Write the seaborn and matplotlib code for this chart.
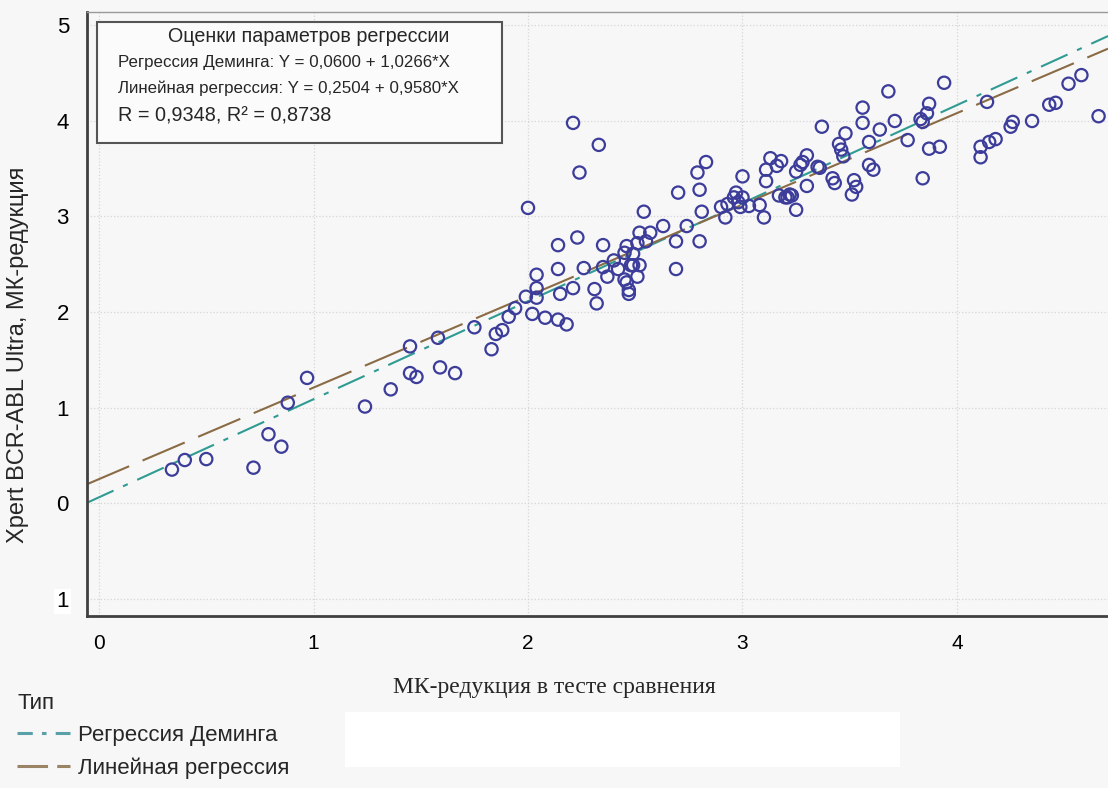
import numpy as np
import pandas as pd
import matplotlib
matplotlib.use("Agg")
import matplotlib.pyplot as plt
from matplotlib.lines import Line2D
from matplotlib.patches import Rectangle
import seaborn as sns

# Paired measurements: comparison test vs Xpert BCR-ABL Ultra (MR, log scale)
x_ref = [0.34, 0.40, 0.50, 0.72, 0.79, 0.85, 0.88, 0.97, 1.24, 1.36,
         1.45, 1.45, 1.48, 1.58, 1.59, 1.66, 1.75, 1.83, 1.85, 1.88,
         1.91, 1.94, 1.99, 2.00, 2.02, 2.04, 2.04, 2.04, 2.08, 2.14,
         2.14, 2.15, 2.14, 2.18, 2.21, 2.24, 2.23, 2.21, 2.26, 2.33,
         2.31, 2.32, 2.35, 2.37, 2.35, 2.40, 2.42, 2.45, 2.46, 2.47,
         2.47, 2.49, 2.49, 2.51, 2.52, 2.52, 2.54, 2.57, 2.63, 2.69,
         2.69, 2.70, 2.74, 2.80, 2.80, 2.81, 2.79, 2.83, 2.90, 2.92,
         2.93, 2.97, 2.98, 3.00, 3.00, 3.03, 3.08, 3.10, 2.96, 2.99,
         3.11, 3.11, 3.13, 3.18, 3.16, 3.17, 3.21, 3.23, 3.25, 3.30,
         3.28, 3.25, 3.30, 3.27, 3.37, 3.36, 3.42, 3.43, 3.48, 3.45,
         3.46, 3.47, 3.51, 3.52, 3.53, 3.56, 3.56, 3.59, 3.59, 3.61,
         3.64, 3.68, 3.71, 3.77, 3.83, 3.84, 3.86, 3.87, 3.84, 3.87,
         3.92, 3.94, 4.14, 4.11, 4.15, 4.18, 4.11, 4.25, 4.26, 4.35,
         4.43, 4.46, 4.52, 4.58, 4.66, 2.55, 2.51, 2.48, 2.45, 2.46,
         3.20, 3.22, 3.35]
y_xpert = [0.35, 0.45, 0.46, 0.37, 0.72, 0.59, 1.05, 1.31, 1.01, 1.19,
           1.64, 1.36, 1.32, 1.73, 1.42, 1.36, 1.84, 1.61, 1.77, 1.81,
           1.95, 2.04, 2.16, 3.09, 1.98, 2.39, 2.25, 2.15, 1.94, 2.70,
           2.45, 2.19, 1.92, 1.87, 3.98, 3.46, 2.78, 2.25, 2.46, 3.75,
           2.24, 2.09, 2.70, 2.37, 2.47, 2.54, 2.45, 2.34, 2.69, 2.23,
           2.19, 2.49, 2.61, 2.37, 2.49, 2.83, 3.05, 2.83, 2.90, 2.45,
           2.74, 3.25, 2.90, 3.28, 2.74, 3.05, 3.46, 3.57, 3.10, 2.99,
           3.13, 3.25, 3.15, 3.42, 3.20, 3.11, 3.12, 2.99, 3.20, 3.10,
           3.49, 3.37, 3.61, 3.58, 3.53, 3.22, 3.20, 3.22, 3.07, 3.64,
           3.57, 3.47, 3.32, 3.54, 3.94, 3.51, 3.40, 3.35, 3.87, 3.76,
           3.70, 3.63, 3.23, 3.38, 3.31, 4.14, 3.98, 3.78, 3.54, 3.49,
           3.91, 4.31, 4.00, 3.80, 4.02, 3.99, 4.08, 4.18, 3.40, 3.71,
           3.73, 4.40, 4.20, 3.73, 3.78, 3.81, 3.62, 3.94, 3.99, 4.00,
           4.17, 4.19, 4.39, 4.48, 4.05, 2.74, 2.72, 2.49, 2.62, 2.31,
           3.20, 3.23, 3.52]

# Regression estimates: (intercept, slope)
deming_coef = (0.0600, 1.0266)
linear_coef = (0.2504, 0.9580)
r_value = 0.9348
r_squared = 0.8738

series_names = ["Регрессия Деминга", "Линейная регрессия"]
x_ticks = [0, 1, 2, 3, 4]
y_ticks = [-1, 0, 1, 2, 3, 4, 5]
y_tick_labels = ["1", "0", "1", "2", "3", "4", "5"]

box_title = "Оценки параметров регрессии"
x_label = "МК-редукция в тесте сравнения"
y_label = "Xpert BCR-ABL Ultra, МК-редукция"
legend_title = "Тип"

W, H = 1108, 788
BG = "#f7f7f7"
POINT = "#3c3c9a"
TEAL = "#2f9b93"
BROWN = "#8a6b45"
SPINE = "#404040"

SANS = ["Liberation Sans", "DejaVu Sans"]
SERIF = ["Liberation Serif", "DejaVu Serif"]


def fx(px):
    return px / W


def fy(py):
    return 1 - py / H


def comma(v):
    return f"{v:.4f}".replace(".", ",")


sns.set_theme(style="white")
plt.rcParams["font.family"] = SANS

fig = plt.figure(figsize=(W / 100, H / 100), dpi=100, facecolor=BG)

# blank panel in the bottom band
fig.patches.append(Rectangle((fx(345), fy(767)), fx(900) - fx(345), fy(712) - fy(767),
                             transform=fig.transFigure, facecolor="white",
                             edgecolor="none", zorder=0))

ax = fig.add_axes([fx(87), fy(616), 1 - fx(87), fy(12) - fy(616)])
ax.set_facecolor(BG)
xlim = (-0.056, 4.704)
ylim = (-1.183, 5.141)

# regression lines across the whole x range
xs = np.array(xlim)
lines = pd.DataFrame({
    "x": np.concatenate([xs, xs]),
    "y": np.concatenate([deming_coef[0] + deming_coef[1] * xs,
                         linear_coef[0] + linear_coef[1] * xs]),
    "Тип": [series_names[0]] * 2 + [series_names[1]] * 2,
})
dash_map = {series_names[0]: (14, 5, 2.5, 5), series_names[1]: (22, 7)}
pal = {series_names[0]: TEAL, series_names[1]: BROWN}
sns.lineplot(data=lines, x="x", y="y", hue="Тип", style="Тип",
             palette=pal, dashes=dash_map, linewidth=1.5, legend=False,
             ax=ax, zorder=2)

pts = pd.DataFrame({"x": x_ref, "y": y_xpert})
sns.scatterplot(data=pts, x="x", y="y", marker="o", s=78,
                facecolor="none", edgecolor=POINT, linewidth=1.6,
                ax=ax, zorder=3)

ax.set_xlim(*xlim)
ax.set_ylim(*ylim)
ax.set_xticks(x_ticks)
ax.set_xticklabels([str(t) for t in x_ticks], family=SANS, fontsize=15)
ax.set_yticks(y_ticks)
ax.set_yticklabels(y_tick_labels, family=SANS, fontsize=16)
ax.get_yticklabels()[0].set_bbox(dict(facecolor="white", edgecolor="none", pad=1.5))
ax.set_xlabel("")
ax.set_ylabel("")
ax.grid(True, linestyle=":", color="#d6d6d6", linewidth=0.9)
ax.tick_params(axis="both", direction="out", length=7, width=1.5,
               color=SPINE, labelcolor="black", pad=6)
for side in ("left", "bottom"):
    ax.spines[side].set_color(SPINE)
    ax.spines[side].set_linewidth(2)
ax.spines["top"].set_color("#9a9a9a")
ax.spines["top"].set_linewidth(1)
ax.spines["right"].set_visible(False)

# statistics box
fig.patches.append(Rectangle((fx(97), fy(143)), fx(502) - fx(97), fy(22) - fy(143),
                             transform=fig.transFigure, facecolor="#fbfbfb",
                             edgecolor="#555555", linewidth=1.5, zorder=5))
fig.text(fx(309), fy(37), box_title, ha="center", va="center", fontsize=14.2,
         family=SANS, zorder=6)
fig.text(fx(118), fy(63), f"{series_names[0]}: Y = {comma(deming_coef[0])} + {comma(deming_coef[1])}*X",
         ha="left", va="center", fontsize=12.2, family=SANS, zorder=6)
fig.text(fx(118), fy(88), f"{series_names[1]}: Y = {comma(linear_coef[0])} + {comma(linear_coef[1])}*X",
         ha="left", va="center", fontsize=12.2, family=SANS, zorder=6)
fig.text(fx(118), fy(116), f"R = {comma(r_value)}, R² = {comma(r_squared)}",
         ha="left", va="center", fontsize=14.3, family=SANS, zorder=6)

# axis titles
fig.text(fx(554), fy(688), x_label, ha="center", va="center", fontsize=17, family=SERIF)
fig.text(fx(18), fy(355), y_label, ha="center", va="center", rotation=90,
         fontsize=17, family=SANS)

# legend
handles = [Line2D([], [], color="#5aa0a8", linewidth=2.2, dashes=(5, 3, 1.5, 3)),
           Line2D([], [], color="#9a8466", linewidth=2.2, dashes=(10, 3))]
leg = fig.legend(handles, series_names, title=legend_title, loc="upper left",
                 bbox_to_anchor=(fx(17), fy(693)), frameon=False, alignment="left",
                 prop={"family": SANS, "size": 16},
                 title_fontproperties={"family": SANS, "size": 16},
                 handlelength=2.4, handletextpad=0.35, labelspacing=0.5,
                 borderaxespad=0, borderpad=0)

fig.savefig("out.png", dpi=100, facecolor=BG)
